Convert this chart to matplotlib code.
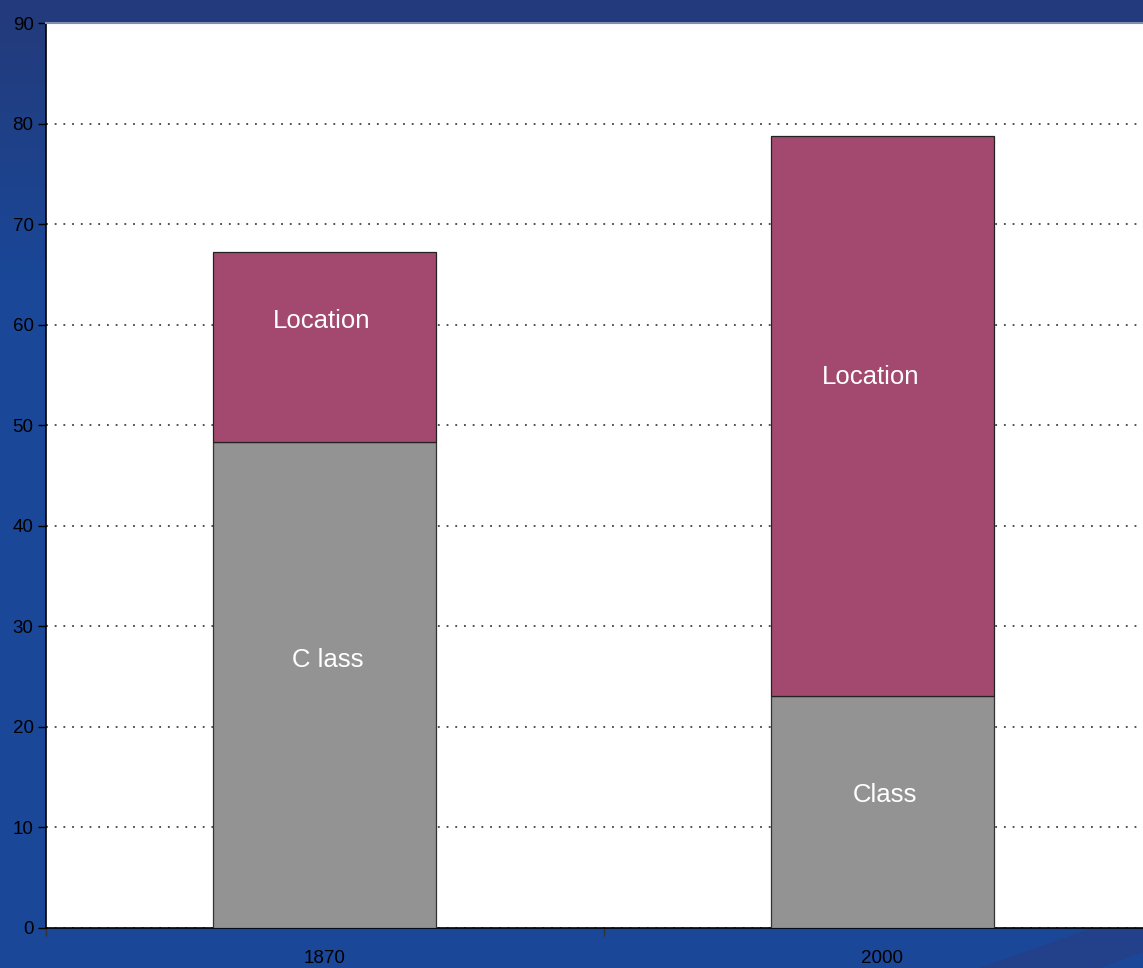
import numpy as np
import matplotlib
matplotlib.use("Agg")
import matplotlib.pyplot as plt
from matplotlib.colors import to_rgb

# data
years = ["1870", "2000"]
class_vals = [48.3, 23.1]
location_vals = [18.9, 55.7]
class_labels = ["C lass", "Class"]
location_labels = ["Location", "Location"]

plt.rcParams['font.family'] = ['Liberation Sans Narrow', 'Liberation Sans', 'DejaVu Sans']

fig = plt.figure(figsize=(11.43, 9.68), dpi=100)

# blue slide background
bg = fig.add_axes([0, 0, 1, 1], zorder=-10)
h, w = 968, 1143
yy, xx = np.mgrid[0:h, 0:w]
top = np.array(to_rgb("#233b7c"))
mid = np.array(to_rgb("#1a4798"))
t = np.clip((yy - 20) / 260.0, 0, 1)[..., None]
img = top * (1 - t) + mid * t
# darker diagonal streak in the lower right corner
d = (yy - 968) + 0.355 * (xx - 977)
band = ((d > 0) & (d < 43))[..., None]
img = np.where(band, np.array(to_rgb("#22418a")), img)
bg.imshow(img, aspect='auto', extent=[0, 1, 0, 1])
bg.axis('off')

ax = fig.add_axes([46 / 1143, 40 / 968, 1115 / 1143, 905 / 968])
ax.set_facecolor("white")

x = np.arange(len(years))
width = 0.4
ax.bar(x, class_vals, width, color="#939393", edgecolor="#333333", linewidth=0.9, zorder=3)
ax.bar(x, location_vals, width, bottom=class_vals, color="#a3496f",
       edgecolor="#222222", linewidth=0.9, zorder=3)

# segment labels
cls_off = [(0.005, 2.5), (0.005, 1.7)]
loc_off = [(-0.005, 2.6), (-0.02, 3.8)]
for i in range(len(years)):
    ax.text(x[i] + cls_off[i][0], class_vals[i] / 2 + cls_off[i][1], class_labels[i],
            color="white", fontsize=18.5, ha="center", va="center", zorder=4)
    ax.text(x[i] + loc_off[i][0], class_vals[i] + location_vals[i] / 2 + loc_off[i][1],
            location_labels[i], color="white", fontsize=18.5, ha="center", va="center", zorder=4)

ax.set_ylim(0, 90)
ax.set_xlim(-0.5, 1.5)
ax.set_yticks(np.arange(0, 91, 10))
ax.yaxis.grid(True, linestyle=(0, (1.2, 4.5)), color="#222222", linewidth=1.1)
ax.set_axisbelow(True)

ax.set_xticks([-0.5, 0.5, 1.5])
ax.set_xticklabels([])
ax.set_xticks(x, minor=True)
ax.set_xticklabels(years, minor=True)
ax.tick_params(axis='x', which='major', length=6, width=1, color="#333333")
ax.tick_params(axis='x', which='minor', length=0, pad=16, labelsize=13.5)
ax.tick_params(axis='y', length=6, width=1, pad=3, labelsize=13.5)

for s in ["left", "bottom"]:
    ax.spines[s].set_color("black")
    ax.spines[s].set_linewidth(1.2)
ax.spines["top"].set_color("#7f8fae")
ax.spines["top"].set_linewidth(1.5)
ax.spines["right"].set_visible(False)

fig.savefig("out.png", dpi=100)
